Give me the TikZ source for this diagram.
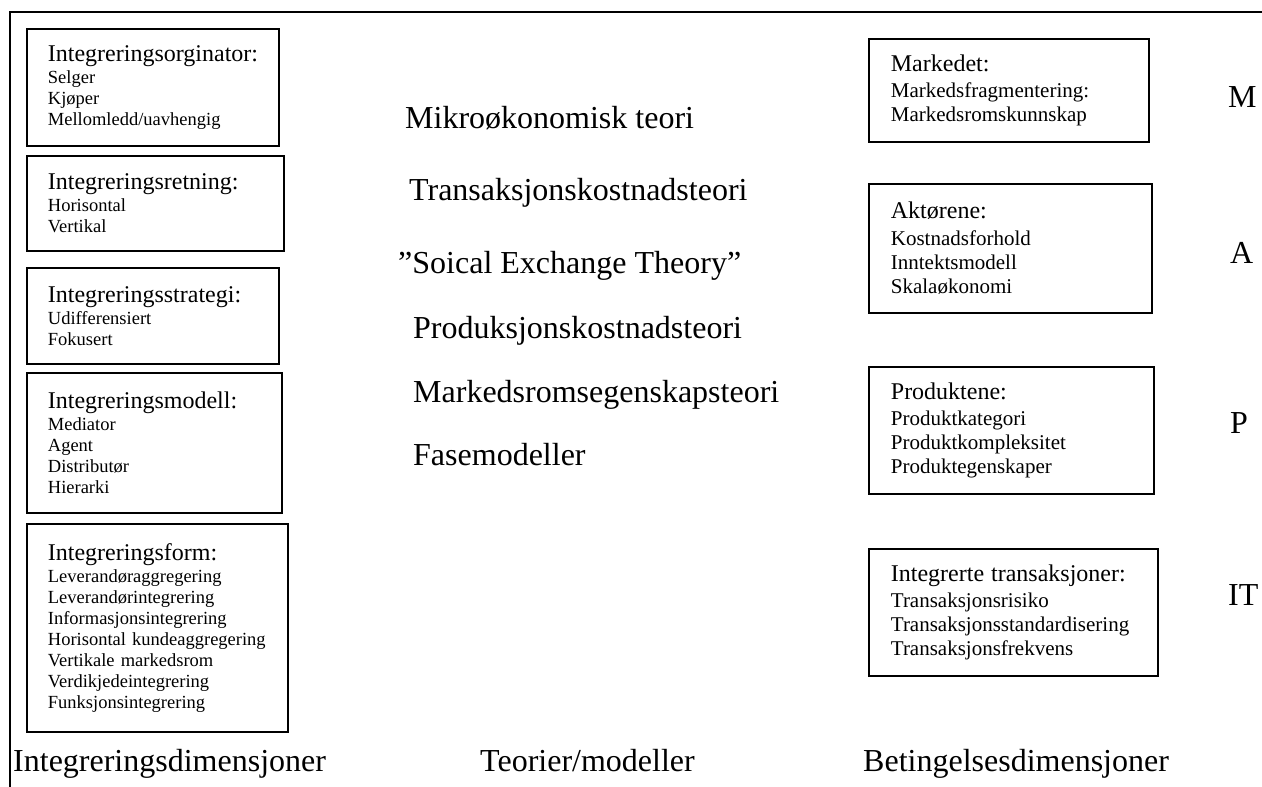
\documentclass[tikz,border=0pt]{standalone}
\usepackage{fontspec}
\setmainfont[Ligatures=NoCommon]{Liberation Serif}

\tikzset{
  dimbox/.style={draw, line width=1.8pt, anchor=north west, inner xsep=21pt, inner ysep=0pt, align=left, font=\fontsize{18.5}{21}\selectfont},
  condbox/.style={draw, line width=1.8pt, anchor=north west, inner xsep=22pt, inner ysep=0pt, align=left, font=\fontsize{21}{24.3}\selectfont},
  bigtext/.style={anchor=base west, inner sep=0pt, font=\fontsize{32}{32}\selectfont},
}
\newcommand{\boxhead}[1]{{\fontsize{24}{24}\selectfont #1}}

\begin{document}
\begin{tikzpicture}[x=1pt,y=1pt,yscale=-1]
\useasboundingbox (0,0) rectangle (1262,787);

% Frame
\draw [line width=2pt] (1262,12) -- (10,12) -- (10,787) ;

% Integreringsdimensjoner
\node [dimbox, text width=210pt, minimum height=117pt] (orig) at (26,28) {\boxhead{Integreringsorginator:}\\[1.5pt] Selger\\ Kjøper\\ Mellomledd/uavhengig};
\node [dimbox, text width=215pt, minimum height=95pt] (retn) at (26,155) {\boxhead{Integreringsretning:}\\[1.5pt] Horisontal\\ Vertikal};
\node [dimbox, text width=210pt, minimum height=96pt] (strat) at (26,267) {\boxhead{Integreringsstrategi:}\\[1.5pt] Udifferensiert\\ Fokusert};
\node [dimbox, text width=213pt, minimum height=140pt] (modell) at (26,372) {\boxhead{Integreringsmodell:}\\[1.5pt] Mediator\\ Agent\\ Distributør\\ Hierarki};
\node [dimbox, text width=219pt, minimum height=208pt] (form) at (26,523) {\boxhead{Integreringsform:}\\[1.5pt] Leverandøraggregering\\ Leverandørintegrering\\ Informasjonsintegrering\\ Horisontal kundeaggregering\\ Vertikale markedsrom\\ Verdikjedeintegrering\\ Funksjonsintegrering};

% Teorier/modeller
\node [bigtext] (mikro) at (405,128) {Mikroøkonomisk teori};
\node [bigtext] (transk) at (409,200) {Transaksjonskostnadsteori};
\node [bigtext] (social) at (398,273) {”Soical Exchange Theory”};
\node [bigtext] (prodk) at (413,338) {Produksjonskostnadsteori};
\node [bigtext] (mrom) at (413,402) {Markedsromsegenskapsteori};
\node [bigtext] (fase) at (413,465) {Fasemodeller};

% Betingelsesdimensjoner
\node [condbox, text width=236pt, minimum height=103pt] (marked) at (868,38) {\boxhead{Markedet:}\\[2pt] Markedsfragmentering:\\ Markedsromskunnskap};
\node [condbox, text width=239pt, minimum height=129pt] (aktor) at (868,183) {\boxhead{Aktørene:}\\[2pt] Kostnadsforhold\\ Inntektsmodell\\ Skalaøkonomi};
\node [condbox, text width=241pt, minimum height=127pt] (prod) at (868,366) {\boxhead{Produktene:}\\[2pt] Produktkategori\\ Produktkompleksitet\\ Produktegenskaper};
\node [condbox, text width=245pt, minimum height=127pt] (trans) at (868,548) {\boxhead{Integrerte transaksjoner:}\\[2pt] Transaksjonsrisiko\\ Transaksjonsstandardisering\\ Transaksjonsfrekvens};

% MAPIT
\node [bigtext] (lm) at (1228,107) {M};
\node [bigtext] (la) at (1230,263) {A};
\node [bigtext] (lp) at (1230,433) {P};
\node [bigtext] (lit) at (1228,605) {IT};

% Column labels
\node [bigtext] (intdim) at (13,771) {Integreringsdimensjoner};
\node [bigtext] (teori) at (480,771) {Teorier/modeller};
\node [bigtext] (betdim) at (863,771) {Betingelsesdimensjoner};

\end{tikzpicture}
\end{document}
